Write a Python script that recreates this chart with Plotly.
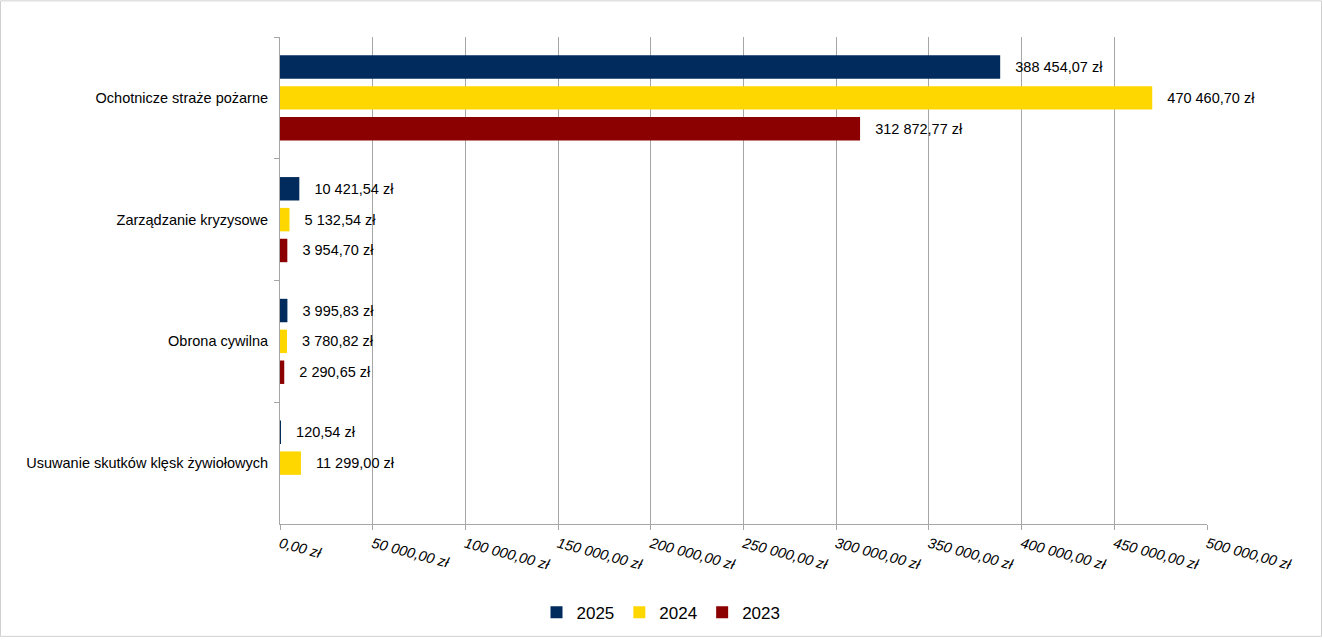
import plotly.graph_objects as go

categories = [
    "Ochotnicze straże pożarne",
    "Zarządzanie kryzysowe",
    "Obrona cywilna",
    "Usuwanie skutków klęsk żywiołowych",
]
values_2025 = [388454.07, 10421.54, 3995.83, 120.54]
values_2024 = [470460.70, 5132.54, 3780.82, 11299.00]
values_2023 = [312872.77, 3954.70, 2290.65, None]

series = [
    ("2025", values_2025, "#002B5C"),
    ("2024", values_2024, "#FFD700"),
    ("2023", values_2023, "#8B0000"),
]

W, H = 1322, 643
L, R, T, B = 280, 115, 37, 114
FONT = "Liberation Sans, Arial, sans-serif"
NB = "\u00a0"

fig = go.Figure()
for name, vals, color in series:
    fig.add_trace(go.Bar(
        y=categories,
        x=vals,
        name=name,
        orientation="h",
        marker=dict(color=color, line=dict(width=0)),
        texttemplate=NB * 3 + "%{x:,.2f} zł",
        textposition="outside",
        textfont=dict(size=14.5, color="#000000"),
        cliponaxis=False,
    ))

# thin frame round the whole chart
pw, ph = W - L - R, H - T - B
fig.add_shape(
    type="rect", xref="paper", yref="paper",
    x0=-(L - 0.5) / pw, x1=(W - L - 0.5) / pw,
    y0=-(B - 0.5) / ph, y1=(H - B - 0.5) / ph,
    line=dict(color="#D0D0D0", width=1),
)

fig.update_layout(
    width=W, height=H,
    margin=dict(l=L, r=R, t=T, b=B),
    separators=", ",
    barmode="group",
    bargap=0.24,
    bargroupgap=0.24,
    plot_bgcolor="white",
    paper_bgcolor="white",
    font=dict(family=FONT, size=14.5, color="#000000"),
    legend=dict(
        orientation="h", x=(W / 2 - L) / pw, xanchor="center",
        y=-0.145, yanchor="top",
        font=dict(size=17), traceorder="normal",
        itemwidth=30,
    ),
    xaxis=dict(
        range=[0, 500000],
        dtick=50000,
        tickformat=",.2f",
        ticksuffix=" zł",
        tickangle=15,
        tickfont=dict(size=14.5, family=FONT, style="italic"),
        showgrid=True,
        gridcolor="#A6A6A6",
        gridwidth=1,
        showline=True,
        linecolor="#A6A6A6",
        ticks="outside",
        ticklen=5,
        tickcolor="#A6A6A6",
        zeroline=False,
    ),
    yaxis=dict(
        autorange="reversed",
        showline=True,
        linecolor="#A6A6A6",
        ticks="outside",
        tickson="boundaries",
        ticklen=5,
        tickcolor="#A6A6A6",
        showgrid=False,
        ticksuffix="  ",
    ),
)

fig.write_html(
    "out.html",
    config={"displayModeBar": False},
    post_script="document.body.style.margin='0';",
)
